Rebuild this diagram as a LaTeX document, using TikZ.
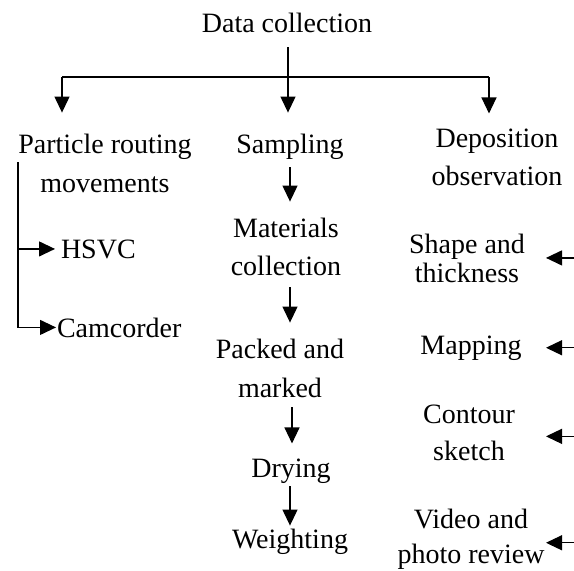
\documentclass[tikz,border=0pt]{standalone}
\usepackage{fontspec}
\setmainfont{Liberation Serif}
\usetikzlibrary{arrows.meta}
\begin{document}
\begin{tikzpicture}[x=1pt,y=-1pt,
  txt/.style={inner sep=0pt, outer sep=0pt, anchor=base, align=center, font=\fontsize{28}{38}\selectfont},
  ln/.style={line width=1.2pt},
  arr/.style={line width=1.2pt, -{Triangle[width=15pt,length=16pt]}}]
\useasboundingbox (0,0) rectangle (574,571);
% nodes (base = baseline of the last line)
\node[txt] (dc) at (287,32) {Data collection};
\node[txt, font=\fontsize{28}{39}\selectfont] (pr) at (105,192) {Particle routing\\movements};
\node[txt] (sa) at (290,153) {Sampling};
\node[txt] (dp) at (497,185) {Deposition\\observation};
\node[txt, anchor=base west] (hs) at (61,258) {HSVC};
\node[txt, anchor=base west] (cc) at (57,337) {Camcorder};
\node[txt] (mc) at (286,275) {Materials\\collection};
\node[txt, font=\fontsize{28}{39}\selectfont] (pm) at (280,397) {Packed and\\marked};
\node[txt] (dr) at (291,477) {Drying};
\node[txt] (we) at (290,548) {Weighting};
\node[txt, font=\fontsize{28}{29}\selectfont] (sh) at (467,282) {Shape and\\thickness};
\node[txt] (mp) at (471,354) {Mapping};
\node[txt, font=\fontsize{28}{37}\selectfont] (ct) at (469,460) {Contour\\sketch};
\node[txt, font=\fontsize{28}{35}\selectfont] (vp) at (471,563) {Video and\\photo review};
% junction coordinates
\coordinate (jm) at (288,77);
\coordinate (jl) at (62,77);
\coordinate (jr) at (489,77);
\coordinate (lt) at (18,162);
\coordinate (redge) at (574,0);
\coordinate (rtip) at (546,0);
% top tree
\draw[ln] ([shift={(1pt,-15pt)}]dc.south) -- (jm);
\draw[ln] (jl) -- (jr);
\draw[arr, shorten >=21pt] (jl) -- (jl |- pr.north);
\draw[arr, shorten >=21pt] (jm) -- (jm |- sa.north);
\draw[arr, shorten >=15pt] (jr) -- (jr |- dp.north);
% left bracket
\draw[arr, shorten >=6pt] (lt) |- (hs.west);
\draw[arr, shorten >=1pt] (lt) |- (cc.west);
% middle chain
\draw[arr, shorten <=8pt, shorten >=16pt] (sa.south) -- (sa.south |- mc.north);
\draw[arr, shorten <=12pt, shorten >=16pt] (sa.south |- mc.south) -- (sa.south |- pm.north);
\draw[arr, shorten <=10pt, shorten >=15pt] ([xshift=2pt]sa.south |- pm.south) -- ([xshift=2pt]sa.south |- dr.north);
\draw[arr, shorten <=3pt, shorten >=3pt] (sa.south |- dr.south) -- (sa.south |- we.north);
% right arrows
\draw[arr] (sh.east -| redge) -- (sh.east -| rtip);
\draw[arr] (mp.east -| redge) -- (mp.east -| rtip);
\draw[arr] ([yshift=-4pt]ct.east -| redge) -- ([yshift=-4pt]ct.east -| rtip);
\draw[arr] ([yshift=-4pt]vp.east -| redge) -- ([yshift=-4pt]vp.east -| rtip);
\end{tikzpicture}
\end{document}
